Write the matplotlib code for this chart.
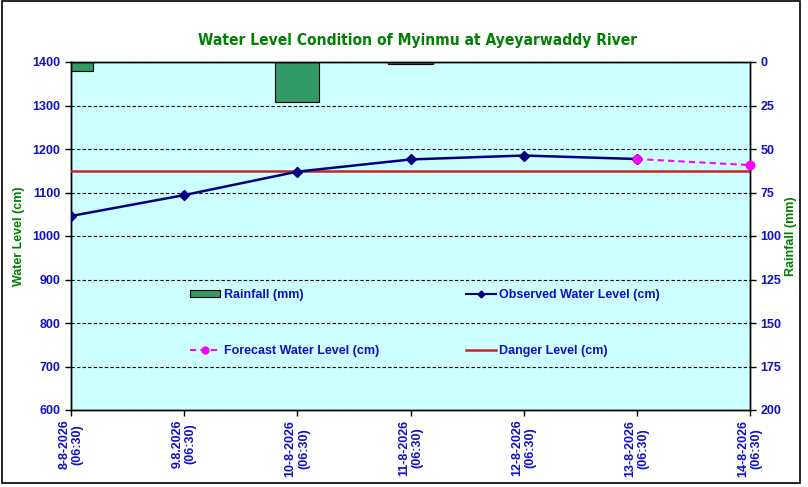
import matplotlib

matplotlib.use("Agg")
import matplotlib.pyplot as plt
from matplotlib.lines import Line2D
from matplotlib.patches import Patch, Rectangle

plt.rcParams["font.family"] = ["Liberation Sans", "DejaVu Sans"]

dates = ["8-8-2026\n(06:30)", "9.8.2026\n(06:30)", "10-8-2026\n(06:30)", "11-8-2026\n(06:30)",
         "12-8-2026\n(06:30)", "13-8-2026\n(06:30)", "14-8-2026\n(06:30)"]
observed = [1046, 1094, 1148, 1176, 1185, 1177]
forecast_idx = [5, 6]
forecast = [1177, 1163]
rain_idx = [0, 2, 3]
rainfall = [5, 23, 1]
danger_level = 1150

BLUE = "#1010C8"
GREEN = "#008000"

fig = plt.figure(figsize=(8.08, 4.87), dpi=100, facecolor="white")
ax = fig.add_axes([71 / 808, 1 - 410 / 487, (750 - 71) / 808, (410 - 62) / 487])

x = list(range(len(dates)))
ax.set_xlim(0, len(dates) - 1)
ax.set_ylim(600, 1400)
ax.set_yticks(range(600, 1401, 100))
ax.grid(axis="y", color="black", linestyle=(0, (3, 2)), linewidth=0.8)

# rainfall on an inverted right axis, drawn behind the water levels
ax2 = ax.twinx()
ax2.set_ylim(200, 0)
ax2.set_yticks(range(0, 201, 25))
ax2.bar(rain_idx, rainfall, width=0.39, color="#339966", edgecolor="black", linewidth=0.8, zorder=2)
ax2.set_zorder(1)
ax.set_zorder(2)
ax.patch.set_visible(False)
ax2.patch.set_visible(True)
ax2.patch.set_facecolor("#CCFFFF")

ax.axhline(danger_level, color="#CC2222", linewidth=1.8, zorder=3)
ax.plot(x[:len(observed)], observed, color="#000080", linewidth=1.8, marker="D", markersize=5.5, zorder=4)
ax.plot(forecast_idx, forecast, color="#FF00FF", linewidth=1.5, linestyle=(0, (3, 2)),
        marker="o", markersize=6, zorder=5, clip_on=False)

ax.set_xticks(x)
ax.set_xticklabels(dates, rotation=90, ha="center", va="top", linespacing=1.15)
for a in (ax, ax2):
    for lab in a.get_xticklabels() + a.get_yticklabels():
        lab.set_color(BLUE)
        lab.set_fontweight("bold")
        lab.set_fontsize(9)
    a.tick_params(length=4, width=1, color="black", direction="out")
    for s in a.spines.values():
        s.set_color("black")
        s.set_linewidth(1)
ax.tick_params(axis="x", pad=3)

fig.text(19 / 808, 1 - 236 / 487, "Water Level (cm)", rotation=90, ha="center", va="center",
         color=GREEN, fontweight="bold", fontsize=9)
fig.text(791 / 808, 1 - 236 / 487, "Rainfall (mm)", rotation=90, ha="center", va="center",
         color=GREEN, fontweight="bold", fontsize=9)

fig.text(418 / 808, 1 - 40 / 487, "Water Level Condition of Myinmu at Ayeyarwaddy River",
         ha="center", va="center", color=GREEN, fontweight="bold", fontsize=11.2,
         family="DejaVu Sans", fontstretch="condensed")

handles = [
    Patch(facecolor="#339966", edgecolor="black", linewidth=0.8),
    Line2D([], [], color="#FF00FF", linestyle=(0, (3, 2)), marker="o", markersize=5, linewidth=1.5),
    Line2D([], [], color="#000080", marker="D", markersize=3.5, linewidth=1.5),
    Line2D([], [], color="#CC2222", linewidth=1.8),
]
labels = ["Rainfall (mm)", "Forecast Water Level (cm)", "Observed Water Level (cm)", "Danger Level (cm)"]
leg = ax.legend(handles, labels, ncol=2, frameon=False, loc="upper left",
                bbox_to_anchor=(108 / 679, 1 - 216 / 348), labelspacing=3.5,
                columnspacing=6.9, handlelength=2.4, handletextpad=0.3,
                handleheight=0.45, prop={"weight": "bold", "size": 9})
for t in leg.get_texts():
    t.set_color(BLUE)

fig.patches.append(Rectangle((2 / 808, 4 / 487), 798 / 808, 482 / 487, transform=fig.transFigure,
                             fill=False, edgecolor="black", linewidth=1.2))

fig.savefig("out.png", dpi=100, facecolor="white")
plt.close(fig)
